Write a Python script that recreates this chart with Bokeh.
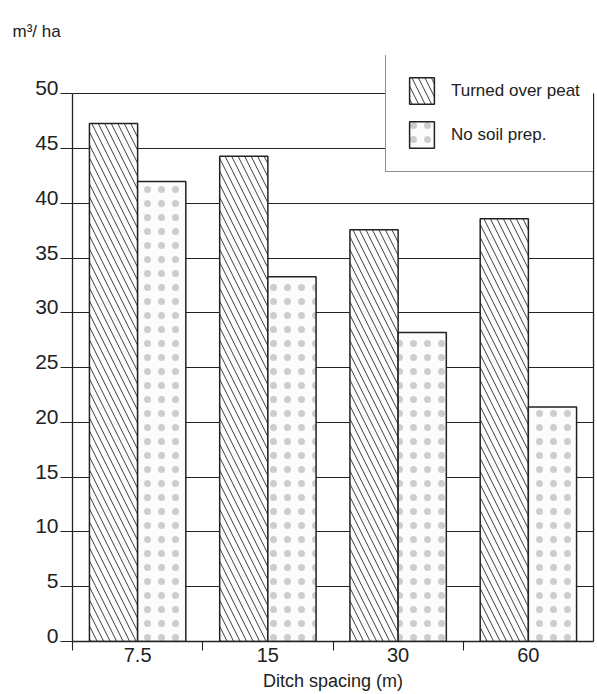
from bokeh.plotting import figure
from bokeh.models import (ColumnDataSource, Range1d, LinearAxis, FixedTicker, Legend, LegendItem)
from bokeh.transform import dodge
from bokeh.embed import file_html
from bokeh.resources import INLINE

# ---- data ----
spacing = ["7.5", "15", "30", "60"]
turned_over_peat = [47.3, 44.3, 37.6, 38.6]
no_soil_prep = [42.0, 33.3, 28.2, 21.4]
y_ticks = [0, 5, 10, 15, 20, 25, 30, 35, 40, 45, 50]
grid_ticks = [5, 10, 15, 20, 25, 30, 35, 40, 45, 50]
series_labels = ["Turned over peat", "No soil prep."]
x_title = "Ditch spacing (m)"
y_title = "m³/ ha"

FONT = "Liberation Sans"
INK = "#222222"

n = len(spacing)
slot_centers = [i + 0.5 for i in range(n)]       # one slot per category
slot_edges = list(range(n))
y_top = y_ticks[-1]
y_view = 53.5                                    # room above 50 for the legend box
lift = 0.5                                       # tick labels sit a little above their ticks

src = ColumnDataSource(dict(x=slot_centers, spacing=spacing,
                            peat=turned_over_peat, noprep=no_soil_prep))

p = figure(width=597, height=694,
           x_range=Range1d(0, n), y_range=Range1d(0, y_view),
           output_backend="svg", toolbar_location=None,
           x_axis_location=None, y_axis_location=None,
           min_border_left=72, min_border_right=4, min_border_top=55, min_border_bottom=53,
           title=y_title)

p.background_fill_color = "white"
p.border_fill_color = "white"
p.outline_line_color = None

p.title.align = "left"
p.title.offset = -60
p.title.text_font = FONT
p.title.text_font_size = "17px"
p.title.text_font_style = "normal"
p.title.text_color = INK
p.title.standoff = 29

# grid lines
p.xgrid.grid_line_color = None
p.ygrid.grid_line_color = INK
p.ygrid.grid_line_width = 1.1
p.ygrid.ticker = FixedTicker(ticks=grid_ticks)

# left: plain axis line from 0 to 50
line_y = LinearAxis(ticker=FixedTicker(ticks=[]), bounds=(0, y_top),
                    axis_line_color=INK, axis_line_width=1.3,
                    major_tick_out=0, major_tick_in=0, minor_tick_out=0, minor_tick_in=0,
                    major_label_standoff=0)
p.add_layout(line_y, "left")

# left: labels (lifted) + ticks (as minor ticks, at the true values)
p.extra_y_ranges = {"labels": Range1d(-lift, y_view - lift)}
lab_y = LinearAxis(y_range_name="labels",
                   ticker=FixedTicker(ticks=y_ticks, minor_ticks=[v - lift for v in y_ticks]),
                   axis_line_color=None, major_tick_line_color=None,
                   major_tick_out=12, major_tick_in=0,
                   minor_tick_line_color=INK, minor_tick_line_width=1.1,
                   minor_tick_out=12, minor_tick_in=0,
                   major_label_standoff=2,
                   major_label_text_font=FONT, major_label_text_font_size="21px",
                   major_label_text_color=INK)
p.add_layout(lab_y, "left")

# right: plain border line from 0 to 50
line_r = LinearAxis(ticker=FixedTicker(ticks=[]), bounds=(0, y_top),
                    axis_line_color=INK, axis_line_width=1.3,
                    major_tick_out=0, major_tick_in=0, minor_tick_out=0, minor_tick_in=0,
                    major_label_standoff=0)
p.add_layout(line_r, "right")

# bottom: category labels at slot centres, ticks at slot boundaries
lab_x = LinearAxis(ticker=FixedTicker(ticks=slot_centers, minor_ticks=slot_edges),
                   major_label_overrides={c: s for c, s in zip(slot_centers, spacing)},
                   axis_line_color=INK, axis_line_width=1.3,
                   major_tick_line_color=None, major_tick_out=0, major_tick_in=0,
                   minor_tick_line_color=INK, minor_tick_line_width=1.1,
                   minor_tick_out=9, minor_tick_in=0,
                   major_label_standoff=-3,
                   major_label_text_font=FONT, major_label_text_font_size="20px",
                   major_label_text_color=INK,
                   axis_label=x_title, axis_label_standoff=6,
                   axis_label_text_font=FONT, axis_label_text_font_size="18px",
                   axis_label_text_font_style="normal", axis_label_text_color=INK)
p.add_layout(lab_x, "below")

bw = 0.37
r1 = p.vbar(x=dodge("x", -bw / 2), top="peat", width=bw, source=src,
            fill_color="white", line_color=INK, line_width=1.5,
            hatch_pattern="\\", hatch_scale=13, hatch_weight=1, hatch_color="#3a3a3a")
r2 = p.vbar(x=dodge("x", bw / 2), top="noprep", width=bw, source=src,
            fill_color="#fcfcfc", line_color=INK, line_width=1.5,
            hatch_pattern=".", hatch_scale=14, hatch_weight=1, hatch_color="#cdcdcd")

legend = Legend(items=[LegendItem(label=series_labels[0], renderers=[r1]),
                       LegendItem(label=series_labels[1], renderers=[r2])],
                location=(313, 469), orientation="vertical", margin=0,
                padding=20, spacing=11, glyph_width=31, glyph_height=33, label_standoff=14,
                label_width=175, label_text_font=FONT, label_text_font_size="17px",
                label_text_color=INK,
                border_line_color=INK, border_line_width=1.3,
                background_fill_color="white", background_fill_alpha=1)
p.add_layout(legend)

open("out.html", "w").write(file_html(p, INLINE))
